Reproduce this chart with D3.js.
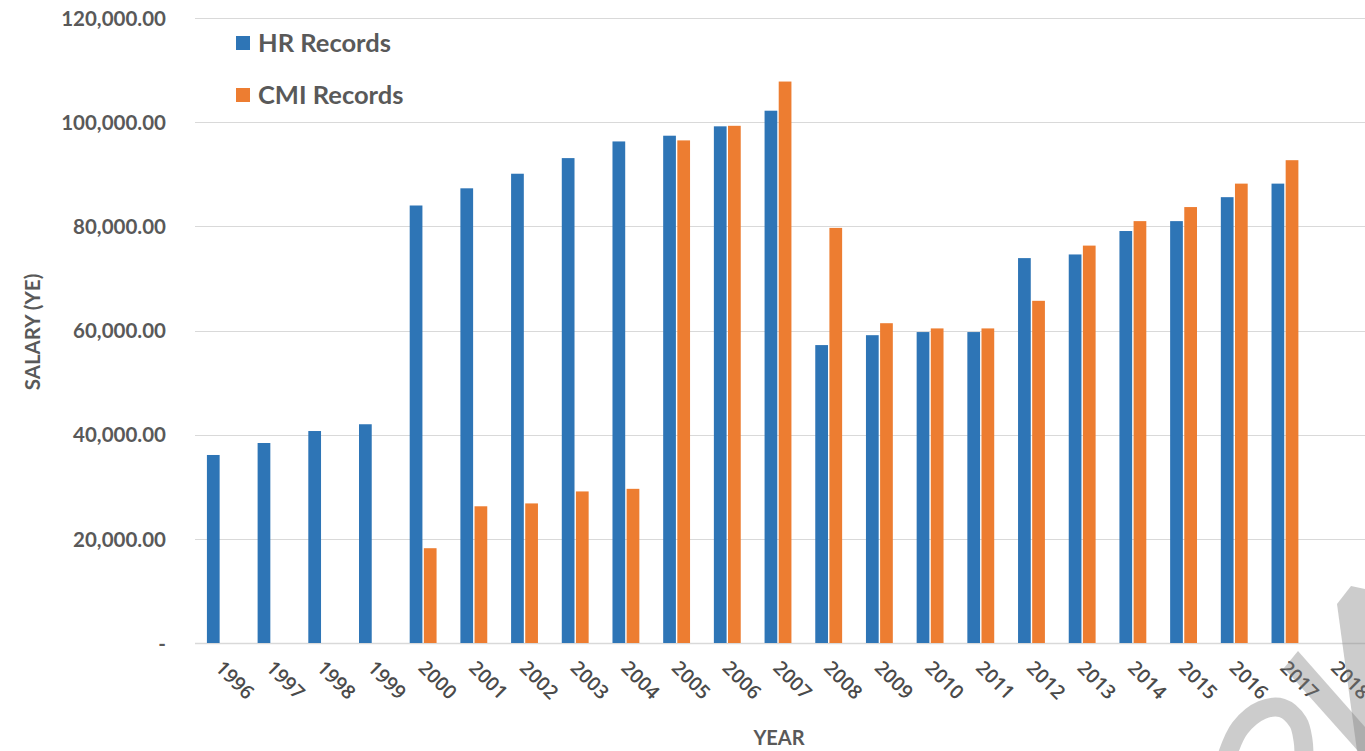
<!DOCTYPE html>
<html>
<head>
<meta charset="utf-8">
<script src="https://cdn.jsdelivr.net/npm/d3@7"></script>
<style>
  html, body { margin: 0; padding: 0; background: #fff; }
  svg { display: block; }
</style>
</head>
<body>
<svg id="chart" width="1365" height="751"></svg>
<script>
// Salary by year from two record sources
const years = ["1996","1997","1998","1999","2000","2001","2002","2003","2004","2005","2006","2007",
               "2008","2009","2010","2011","2012","2013","2014","2015","2016","2017","2018"];
const hrRecords = [36100, 38400, 40700, 42000, 84000, 87300, 90100, 93100, 96300, 97400, 99200, 102200,
                   57200, 59100, 59700, 59700, 73900, 74600, 79100, 81000, 85600, 88200, null];
const cmiRecords = [null, null, null, null, 18200, 26250, 26800, 29100, 29600, 96500, 99300, 107800,
                    79700, 61400, 60400, 60400, 65700, 76300, 81000, 83700, 88200, 92700, null];
const seriesNames = ["HR Records", "CMI Records"];
const seriesColors = ["#2E75B6", "#ED7D31"];
const yTicks = [0, 20000, 40000, 60000, 80000, 100000, 120000];

const svg = d3.select("#chart");
const textColor = "#595959";
const plotLeft = 195, plotRight = 1361, plotTop = 18, plotBottom = 643;

const x0 = d3.scaleBand().domain(years).range([plotLeft, plotRight]).paddingInner(0.47).paddingOuter(0.235);
const x1 = d3.scaleBand().domain(seriesNames).range([0, x0.bandwidth()]).paddingInner(0.1);
const y = d3.scaleLinear().domain([0, 120000]).range([plotBottom, plotTop]);

// gridlines
svg.append("g")
  .selectAll("line")
  .data(yTicks)
  .join("line")
  .attr("x1", plotLeft).attr("x2", 1365)
  .attr("y1", d => Math.round(y(d)) + 0.5).attr("y2", d => Math.round(y(d)) + 0.5)
  .attr("stroke", "#d9d9d9").attr("stroke-width", d => d === 0 ? 1.5 : 1.2);

// y axis labels
const fmt = d3.format(",.2f");
const yAxis = d3.axisLeft(y).tickValues(yTicks).tickSize(0).tickPadding(0)
  .tickFormat(d => d === 0 ? "-" : fmt(d));
const yg = svg.append("g").attr("transform", "translate(166,0)").call(yAxis);
yg.select(".domain").remove();
yg.selectAll("text")
  .attr("fill", textColor)
  .attr("font-family", "Lato, 'Open Sans', sans-serif")
  .attr("font-weight", "bold")
  .attr("font-size", 20.5)
  .attr("dy", "0.35em");

// bars
const rows = years.map((yr, i) => ({ year: yr, values: [hrRecords[i], cmiRecords[i]] }));
const groups = svg.append("g").selectAll("g")
  .data(rows).join("g")
  .attr("transform", d => `translate(${x0(d.year)},0)`);
groups.selectAll("rect")
  .data(d => d.values.map((v, j) => ({ name: seriesNames[j], value: v, color: seriesColors[j] }))
                   .filter(e => e.value != null))
  .join("rect")
  .attr("x", d => x1(d.name))
  .attr("width", x1.bandwidth())
  .attr("y", d => y(d.value))
  .attr("height", d => y(0) - y(d.value))
  .attr("fill", d => d.color);

// x axis tick labels (rotated)
const xAxis = d3.axisBottom(x0).tickSize(0).tickPadding(0);
const xg = svg.append("g").attr("transform", `translate(0,${plotBottom})`).call(xAxis);
xg.select(".domain").remove();
xg.selectAll("text")
  .attr("fill", "#4a4a4a")
  .attr("font-family", "'Open Sans', Lato, sans-serif")
  .attr("font-weight", 600)
  .attr("font-size", 19.5)
  .attr("text-anchor", "start")
  .attr("dy", null)
  .attr("y", 0)
  .attr("transform", "translate(-6,26) rotate(45)");

// axis titles
svg.append("text")
  .attr("x", 779).attr("y", 745)
  .attr("text-anchor", "middle")
  .attr("fill", textColor)
  .attr("font-family", "Lato, sans-serif")
  .attr("font-weight", "bold")
  .attr("font-size", 20)
  .text("YEAR");
svg.append("text")
  .attr("transform", "translate(40,332) rotate(-90)")
  .attr("text-anchor", "middle")
  .attr("fill", textColor)
  .attr("font-family", "Lato, sans-serif")
  .attr("font-weight", "bold")
  .attr("font-size", 20.5)
  .text("SALARY (YE)");

// legend
const legend = svg.append("g").selectAll("g")
  .data(seriesNames).join("g")
  .attr("transform", (d, i) => `translate(236,${36 + i * 52})`);
legend.append("rect")
  .attr("width", 14).attr("height", 14)
  .attr("fill", (d, i) => seriesColors[i]);
legend.append("text")
  .attr("x", 22).attr("y", 7).attr("dy", "0.36em")
  .attr("fill", textColor)
  .attr("font-family", "Lato, sans-serif")
  .attr("font-weight", "bold")
  .attr("font-size", 25.5)
  .text(d => d);

// translucent watermark strokes in the lower-right corner
const mark = svg.append("g").attr("fill", "#808080").attr("fill-opacity", 0.4)
  .attr("stroke", "none");
mark.append("polygon")
  .attr("points", "1337,604 1351,586 1365,589 1365,751 1357,751");
mark.append("polygon")
  .attr("points", "1284,668 1298,651 1365,727 1365,751 1358,751");
mark.append("path")
  .attr("d", d3.line().curve(d3.curveCatmullRom)([[1227,756],[1240,728],[1262,710],[1282,708],[1298,722],[1303,740],[1304,756]]))
  .attr("fill", "none")
  .attr("stroke", "#808080").attr("stroke-opacity", 0.4)
  .attr("stroke-width", 19);
</script>
</body>
</html>
